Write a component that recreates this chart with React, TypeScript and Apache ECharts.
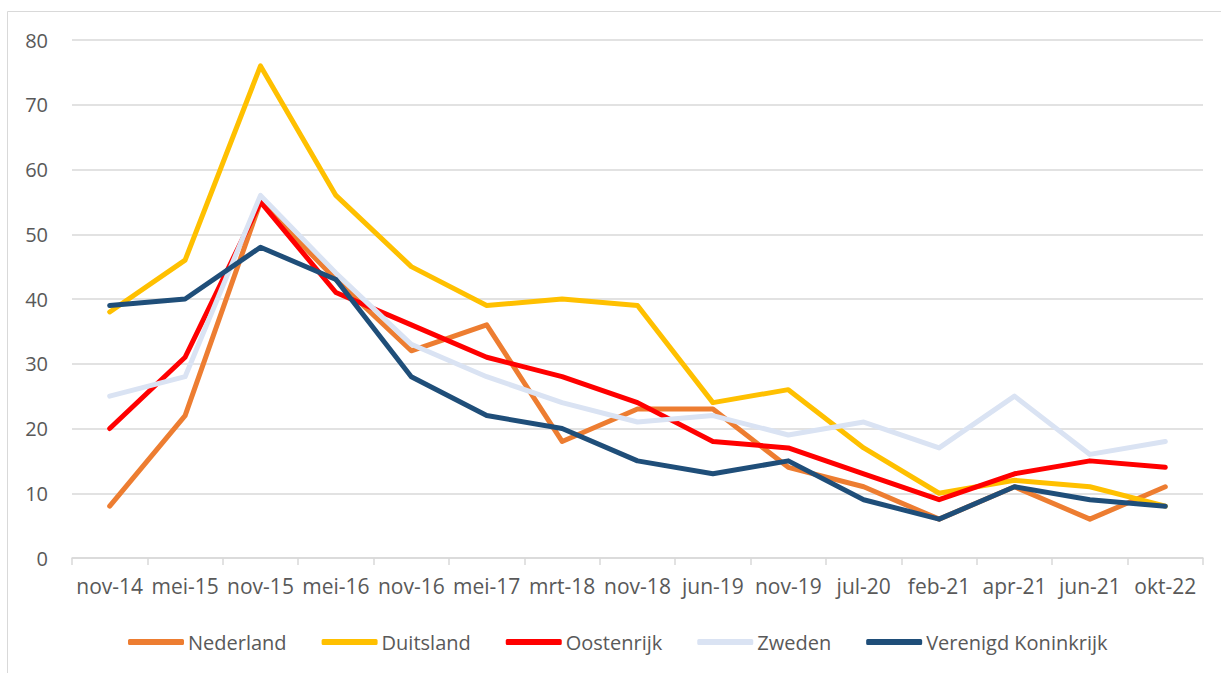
import React, { useEffect, useRef } from "react";
import * as echarts from "echarts";

const categories = ["nov-14", "mei-15", "nov-15", "mei-16", "nov-16", "mei-17", "mrt-18", "nov-18", "jun-19", "nov-19", "jul-20", "feb-21", "apr-21", "jun-21", "okt-22"];
const nederland = [8, 22, 55, 43, 32, 36, 18, 23, 23, 14, 11, 6, 11, 6, 11];
const duitsland = [38, 46, 76, 56, 45, 39, 40, 39, 24, 26, 17, 10, 12, 11, 8];
const oostenrijk = [20, 31, 55, 41, 36, 31, 28, 24, 18, 17, 13, 9, 13, 15, 14];
const zweden = [25, 28, 56, 44, 33, 28, 24, 21, 22, 19, 21, 17, 25, 16, 18];
const vk = [39, 40, 48, 43, 28, 22, 20, 15, 13, 15, 9, 6, 11, 9, 8];

const seriesDefs = [
  { name: "Nederland", data: nederland, color: "#ED7D31" },
  { name: "Duitsland", data: duitsland, color: "#FFC000" },
  { name: "Oostenrijk", data: oostenrijk, color: "#FF0000" },
  { name: "Zweden", data: zweden, color: "#DAE3F3" },
  { name: "Verenigd Koninkrijk", data: vk, color: "#1F4E79" },
];

const FONT = "'Open Sans', 'Noto Sans', sans-serif";

export default function App() {
  const ref = useRef<HTMLDivElement>(null);
  useEffect(() => {
    document.body.style.margin = "0";
    const chart = echarts.init(ref.current!, null, { renderer: "svg" });
    chart.setOption({
      animation: false,
      backgroundColor: "#ffffff",
      graphic: [
        {
          type: "rect",
          shape: { x: 7.5, y: 11.5, width: 1300, height: 700 },
          style: { fill: "none", stroke: "#D9D9D9", lineWidth: 1 },
          silent: true,
        },
      ],
      grid: { left: 72, right: 18, top: 40, bottom: 115, containLabel: false },
      legend: {
        top: 627,
        left: 123,
        itemWidth: 56,
        itemHeight: 6,
        itemGap: 35,
        icon: "roundRect",
        textStyle: { fontFamily: FONT, fontSize: 20, color: "#595959", padding: [0, 0, 0, -1] },
        data: seriesDefs.map((s) => s.name),
      },
      xAxis: {
        type: "category",
        data: categories,
        boundaryGap: true,
        axisLine: { lineStyle: { color: "#D9D9D9", width: 1.5 } },
        axisTick: { show: true, length: 7, lineStyle: { color: "#D9D9D9", width: 1.5 } },
        axisLabel: { fontFamily: FONT, fontSize: 21, color: "#595959", margin: 17, interval: 0 },
      },
      yAxis: {
        type: "value",
        min: 0,
        max: 80,
        interval: 10,
        axisLine: { show: false },
        axisTick: { show: false },
        axisLabel: { fontFamily: FONT, fontSize: 20, color: "#595959", margin: 24 },
        splitLine: { lineStyle: { color: "#D9D9D9", width: 1.5 } },
      },
      series: seriesDefs.map((s) => ({
        name: s.name,
        type: "line",
        data: s.data,
        symbol: "none",
        smooth: false,
        color: s.color,
        lineStyle: { color: s.color, width: 5, cap: "round", join: "round" },
        itemStyle: { color: s.color },
      })),
    });
    return () => chart.dispose();
  }, []);
  return <div ref={ref} style={{ width: 1221, height: 673 }} />;
}
